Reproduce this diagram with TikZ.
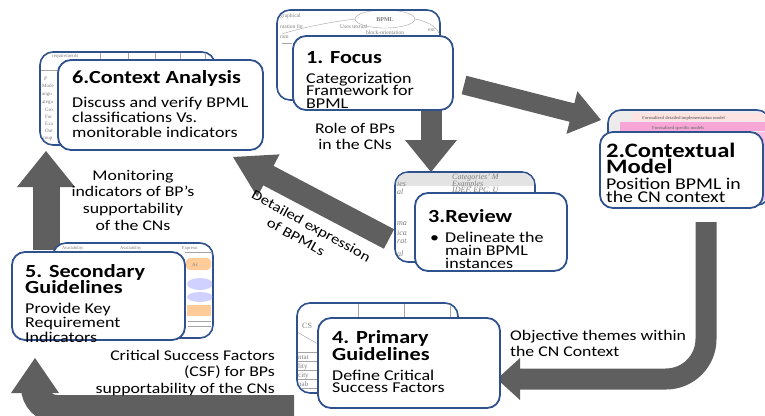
\documentclass[tikz,border=0pt]{standalone}
\usepackage{fontspec}
\setmainfont{Carlito}[FakeStretch=1.2]
\newfontfamily\scrapfont{Liberation Serif}
\usetikzlibrary{calc}
\definecolor{boxblue}{RGB}{47,82,143}
\definecolor{arrowgray}{RGB}{95,95,95}
\definecolor{scrapgray}{RGB}{125,125,125}

% stacked lines, baseline = first line
\newcommand\lstack[1]{\vtop{\lineskiplimit=-100pt\lineskip=0pt\halign{##\hfil\cr#1\crcr}}}
\newcommand\cstack[1]{\vtop{\lineskiplimit=-100pt\lineskip=0pt\halign{\hfil##\hfil\cr#1\crcr}}}
\newcommand\rstack[1]{\vtop{\lineskiplimit=-100pt\lineskip=0pt\halign{\hfil##\cr#1\crcr}}}

% straight block arrow: tail, tip, shaft width, half head width, head length
\newcommand\fatarrow[5]{%
  \coordinate (hb) at ($(#2)!#5!(#1)$);
  \draw[arrowgray, line width=#3] (#1) -- ($(hb)!0.25!(#2)$);
  \fill[arrowgray] (#2) -- ($(hb)!#4!90:(#2)$) -- ($(hb)!#4!-90:(#2)$) -- cycle;}
% arrow head only: base centre, tip, half width
\newcommand\fathead[3]{%
  \fill[arrowgray] (#2) -- ($(#1)!#3!90:(#2)$) -- ($(#1)!#3!-90:(#2)$) -- cycle;}

\begin{document}
\begin{tikzpicture}[x=1pt,y=-1pt,
  frontbox/.style={draw=boxblue, line width=1.8pt, rounded corners=13pt, fill=white,
    anchor=north west, inner sep=0pt, outer sep=0pt},
  rearbox/.style={frontbox, line width=1.6pt},
  ttl/.style={inner sep=0pt, anchor=base west, font=\bfseries\fontsize{18.5}{#1}\selectfont},
  ttl/.default=16.5,
  body/.style={inner sep=0pt, anchor=base west, font=\fontsize{15}{#1}\selectfont},
  body/.default=13.5,
  lbl/.style={inner sep=0pt, font=\fontsize{14.8}{16.7}\selectfont},
  scrap/.style={inner sep=0pt, anchor=base west, text=scrapgray,
    font=\scrapfont\fontsize{#1}{#1}\selectfont},
  scrap/.default=5.5,
  rulefaint/.style={draw=scrapgray!70, line width=0.4pt},
]
\useasboundingbox (0,0) rectangle (765,415);

% ---------- block arrows ----------
\coordinate (a1s) at (464,85);  \coordinate (a1e) at (601,120);
\fatarrow{a1s}{a1e}{19pt}{22pt}{30pt}
\coordinate (a2s) at (431,100); \coordinate (a2e) at (431,172);
\fatarrow{a2s}{a2e}{21pt}{26pt}{32pt}
\coordinate (a3s) at (389,239); \coordinate (a3e) at (233,157);
\fatarrow{a3s}{a3e}{22pt}{24pt}{40pt}
\coordinate (a6s) at (46,250);  \coordinate (a6e) at (46,151);
\fatarrow{a6s}{a6e}{27pt}{29pt}{36pt}

\coordinate (a4s) at (706,222); \coordinate (a4b) at (520,379); \coordinate (a4e) at (497,379);
\draw[arrowgray, line width=21pt, rounded corners=40pt] (a4s) |- ($(a4b)!0.3!(a4e)$);
\fathead{a4b}{a4e}{21pt}

\coordinate (a5s) at (294,409); \coordinate (a5b) at (35,393); \coordinate (a5e) at (35,358);
\draw[arrowgray, line width=28pt, rounded corners=22pt] (a5s) -| ($(a5b)!0.25!(a5e)$);
\fathead{a5b}{a5e}{24pt}

% ---------- rear sheets ----------
% 1: classification diagram
\node[rearbox, minimum width=163pt, minimum height=90pt] (k1) at (277,10) {};
\begin{scope}
  \clip[rounded corners=12pt] ($(k1.north west)+(1,1)$) rectangle ($(k1.south east)+(-1,-1)$);
  \draw[rulefaint] (385,19) ellipse [x radius=30, y radius=9];
  \node[scrap=6, anchor=base] (k1a) at (385,21) {\bfseries BPML};
  \node[scrap] (k1b) at (280,17) {graphical};
  \node[scrap] (k1c) at (280,28) {ntation for};
  \node[scrap] (k1d) at (280,38) {ram};
  \node[scrap] (k1f) at (340,28) {Uses textual};
  \node[scrap] (k1g) at (366,34.5) {block-orientation};
  \node[scrap] (k1h) at (428,31) {ent};
  \draw[rulefaint] (355,19) .. controls (330,22) and (300,28) .. (282,34);
  \draw[rulefaint] (415,19) .. controls (430,22) and (438,28) .. (440,36);
  \draw[rulefaint] (282,43) -- (292,43);
\end{scope}

% 6: requirements table
\node[rearbox, minimum width=175pt, minimum height=93pt] (k6) at (40,52) {};
\begin{scope}
  \clip[rounded corners=12pt] ($(k6.north west)+(1,1)$) rectangle ($(k6.south east)+(-1,-1)$);
  \foreach \xx in {100,128,155,180,205} \draw[rulefaint] (\xx,52) -- (\xx,62);
  \draw[rulefaint] (40,70) -- (58,70);
  \node[scrap=5] (k6a) at (52,57) {requirements};
  \node[scrap] (k6c) at (44,80) {P};
  \node[scrap=5] (k6d) at (42,87) {Mode};
  \node[scrap=5] (k6e) at (42,95) {angu};
  \node[scrap=5] (k6f) at (42,103) {ategu};
  \node[scrap=5] (k6g) at (45,111) {Gro};
  \node[scrap=5] (k6h) at (45,118) {For};
  \node[scrap=5] (k6i) at (45,125) {Exa};
  \node[scrap=5] (k6j) at (45,132) {Out};
  \node[scrap=5] (k6k) at (43,139) {roup};
\end{scope}

% 2: layered models
\node[rearbox, fill=gray!15, minimum width=162pt, minimum height=95pt] (k2) at (608,110) {};
\begin{scope}
  \clip[rounded corners=12pt] ($(k2.north west)+(1,1)$) rectangle ($(k2.south east)+(-1,-1)$);
  \fill[pink!45] (632,113) rectangle (772,121);
  \node[scrap=4.5] (k2a) at (642,119.5) {\bfseries Formalized detailed implementation model};
  \fill[magenta!35] (620,122) rectangle (772,131);
  \node[scrap=4.5] (k2b) at (652,129) {\bfseries Formalized specific models};
  \fill[magenta!25] (612,132) rectangle (772,200);
\end{scope}

% 3: language categories
\node[rearbox, minimum width=140pt, minimum height=90pt] (k3) at (395,172) {};
\begin{scope}
  \clip[rounded corners=12pt] ($(k3.north west)+(1,1)$) rectangle ($(k3.south east)+(-1,-1)$);
  \fill[gray!22] (395,172) rectangle (535,186);
  \node[scrap=8] (k3a) at (452,179) {\itshape Categories’ M};
  \node[scrap=8] (k3b) at (452,186.5) {\itshape Examples};
  \node[scrap=8] (k3c) at (397,186.5) {\itshape ies};
  \node[scrap=8] (k3d) at (452,192.5) {\itshape IDEF, EPC, U};
  \node[scrap=8] (k3e) at (397,194) {\itshape al};
  \node[scrap=8] (k3f) at (397,225) {\itshape ma};
  \node[scrap=8] (k3g) at (397,235) {\itshape ica};
  \node[scrap=8] (k3h) at (397,243) {\itshape rat};
  \node[scrap=8] (k3i) at (397,256) {\itshape al};
\end{scope}

% 5: indicator grid
\node[rearbox, minimum width=160pt, minimum height=95pt] (k5) at (53,243) {};
\begin{scope}
  \clip[rounded corners=12pt] ($(k5.north west)+(1,1)$) rectangle ($(k5.south east)+(-1,-1)$);
  \node[scrap=4.5] (k5a) at (62,249) {Availability};
  \node[scrap=4.5] (k5b) at (120,249) {Availability};
  \node[scrap=4.5] (k5c) at (182,249) {Expressi};
  \draw[rulefaint] (185,252) -- (213,252);
  \fill[orange!40, rounded corners=4pt] (186,258) rectangle (211,270);
  \node[scrap=5] (k5d) at (192,266) {Ac};
  \fill[blue!18] (200,284) ellipse [x radius=13, y radius=6];
  \fill[blue!18] (200,297) ellipse [x radius=13, y radius=5];
  \fill[orange!40] (187,305) rectangle (211,316);
  \draw[rulefaint] (188,321) -- (211,321);
  \draw[rulefaint] (188,326) -- (211,326);
\end{scope}

% 4: success factor table
\node[rearbox, minimum width=161pt, minimum height=90pt] (k4) at (297,303) {};
\begin{scope}
  \clip[rounded corners=12pt] ($(k4.north west)+(1,1)$) rectangle ($(k4.south east)+(-1,-1)$);
  \foreach \xx in {358,404,450} \draw[rulefaint] (\xx,303) -- (\xx,318);
  \draw[rulefaint] (297,332) -- (318,344);
  \node[scrap=8] (k4a) at (302,328) {CS};
  \foreach \yy in {352,361,370,379,388} \draw[rulefaint] (297,\yy) -- (318,\yy);
  \node[scrap=7] (k4b) at (298,359) {ntat};
  \node[scrap=7] (k4c) at (298,368) {lity};
  \node[scrap=7] (k4d) at (298,377) {city};
  \node[scrap=7] (k4e) at (298,386) {nab};
\end{scope}

% ---------- front cards ----------
\node[frontbox, minimum width=160pt, minimum height=74pt] (f1) at (293,36) {};
\node[ttl] (t1) at (306,63) {1. Focus};
\node[body=12.5] (d1) at (306,83) {\lstack{Categorization\cr Framework for\cr BPML}};

\node[frontbox, minimum width=205pt, minimum height=90pt] (f6) at (58,60) {};
\node[ttl] (t6) at (72,83) {6.Context Analysis};
\node[body=15] (d6) at (72,107) {\lstack{Discuss and verify BPML\cr classifications Vs.\cr monitorable indicators}};

\node[frontbox, minimum width=163pt, minimum height=76pt] (f2) at (600,132) {};
\node[inner sep=0pt, anchor=base west, font=\bfseries\fontsize{20.5}{16.5}\selectfont]
  (t2) at (606,157) {\lstack{2.Contextual\cr Model}};
\node[inner sep=0pt, anchor=base west, font=\fontsize{16.5}{13.5}\selectfont]
  (d2) at (606,189) {\lstack{Position BPML in\cr the CN context}};

\node[frontbox, minimum width=152pt, minimum height=78pt] (f3) at (415,193) {};
\node[ttl] (t3) at (428,222) {3.Review};
\node[body=13] (d3) at (445,242) {\lstack{\llap{•\hspace{6pt}}Delineate the\cr main BPML\cr instances}};

\node[frontbox, minimum width=173pt, minimum height=88pt] (f5) at (12,252) {};
\node[ttl=16] (t5) at (25,277) {\lstack{5. Secondary\cr Guidelines}};
\node[body=14.5] (d5) at (25,313) {\lstack{Provide Key\cr Requirement\cr Indicators}};

\node[frontbox, minimum width=182pt, minimum height=90pt] (f4) at (318,318) {};
\node[ttl=17] (t4) at (332,343) {\lstack{4. Primary\cr Guidelines}};
\node[body=12.5] (d4) at (332,380) {\lstack{Define Critical\cr Success Factors}};

% ---------- arrow labels ----------
\node[lbl, anchor=base] (l1) at (355,133) {\cstack{Role of BPs\cr in the CNs}};
\node[lbl, anchor=base] (l2) at (133,180) {\cstack{Monitoring\cr indicators of BP’s\cr supportability\cr of the CNs}};
\node[lbl, anchor=base east] (l3) at (275,360) {\rstack{Critical Success Factors\cr (CSF) for BPs\cr supportability of the CNs}};
\node[lbl, anchor=base west] (l4) at (510,340) {\lstack{Objective themes within\cr the CN Context}};
\node[inner sep=0pt, anchor=base, rotate=-29, font=\fontsize{14}{17}\selectfont]
  (l5) at (309,230) {\cstack{Detailed expression\cr of BPMLs\hspace*{16pt}}};
\end{tikzpicture}
\end{document}
